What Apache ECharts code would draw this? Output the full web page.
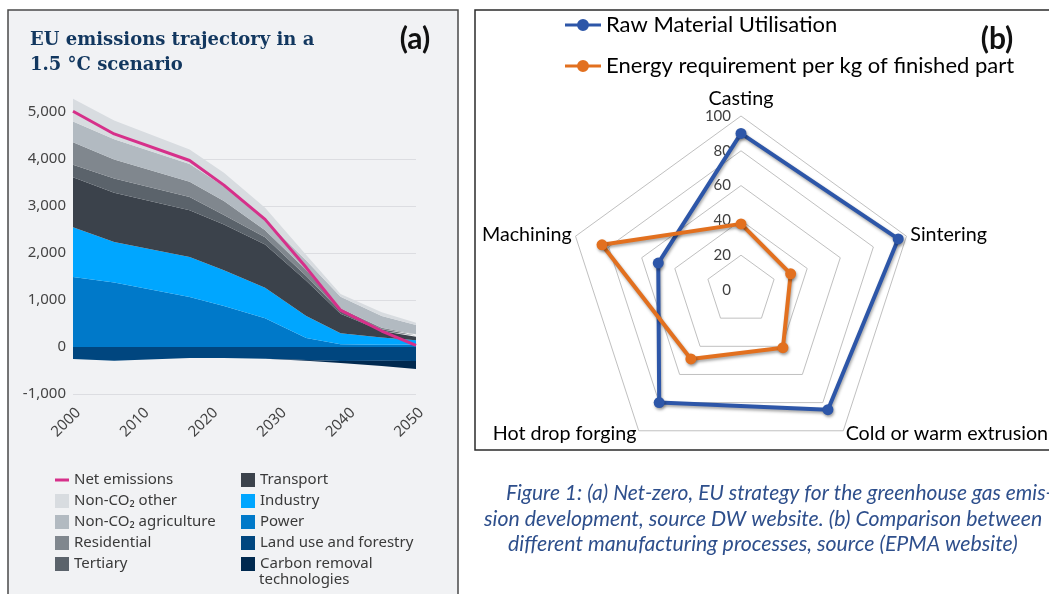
<!DOCTYPE html>
<html><head><meta charset="utf-8">
<script src="https://cdn.jsdelivr.net/npm/echarts@6/dist/echarts.min.js"></script>
<style>html,body{margin:0;padding:0;background:#fff;} #c{width:1049px;height:594px;}</style>
</head><body><div id="c"></div>
<script>
// ---------- Panel (a): EU emissions trajectory ----------
const years = [2000, 2006, 2017, 2022, 2028, 2034, 2039, 2045, 2050];
const power       = [1490, 1370, 1066, 875, 613, 190, 60, 50, 55];
const industry    = [1060, 864, 849, 758, 650, 470, 230, 150, 90];
const transport   = [1060, 1046, 992, 976, 920, 750, 420, 140, 75];
const tertiary    = [270, 306, 282, 198, 150, 100, 50, 40, 25];
const residential = [475, 404, 325, 297, 150, 130, 60, 30, 25];
const agriculture = [445, 430, 382, 318, 220, 200, 250, 250, 200];
const otherNonCO2 = [480, 397, 306, 283, 260, 120, 60, 80, 45];
const landUse     = [-257, -293, -236, -236, -250, -279, -300, -295, -300];
const carbonRemoval = [0, 0, 0, 0, 0, -15, -40, -110, -170];
const netEmissions  = [5015, 4533, 3968, 3444, 2715, 1690, 783, 340, 35];
const yTicks = [-1000, 0, 1000, 2000, 3000, 4000, 5000];

// ---------- Panel (b): radar ----------
const processes = ['Casting', 'Machining', 'Hot drop forging', 'Cold or warm extrusion', 'Sintering'];
const rawUtil   = [90, 50, 80, 85, 95];
const energyReq = [38, 84, 49, 41, 30];
const radarTicks = [0, 20, 40, 60, 80, 100];

const names = {
  net: 'Net emissions', other: 'Non-CO\u2082 other', agri: 'Non-CO\u2082 agriculture',
  res: 'Residential', ter: 'Tertiary', tra: 'Transport', ind: 'Industry',
  pow: 'Power', land: 'Land use and forestry', cdr: 'Carbon removal technologies'
};
const colors = {
  net: '#d6308a', other: '#d8dce0', agri: '#b2bac1', res: '#80878e', ter: '#5b636b',
  tra: '#3b424b', ind: '#00a6ff', pow: '#0079c9', land: '#00467f', cdr: '#00294f'
};

// rows are [value, year]; encode maps year to x so the value dimension is the stacked one
function rows(arr) { return years.map((y, i) => [arr[i], y]); }
function area(key, arr) {
  return {
    name: names[key], type: 'line', stack: 'total', stackStrategy: 'samesign',
    data: rows(arr), encode: { x: 1, y: 0 }, symbol: 'none', showSymbol: false, clip: false,
    lineStyle: { width: 0, color: colors[key] }, itemStyle: { color: colors[key] },
    areaStyle: { color: colors[key], opacity: 1 }, emphasis: { disabled: true }, z: 2
  };
}

const axisFont = 'Noto Sans';
const legendText = { fontSize: 15, color: '#3a3a3a', fontFamily: axisFont, lineHeight: 16 };
const capFont = 'italic 21.3px Lato';

const option = {
  animation: false,
  graphic: [
    { type: 'rect', z: -100, silent: true, shape: { x: 8, y: 10, width: 450, height: 620 },
      style: { fill: '#f1f2f4', stroke: '#4a4a4a', lineWidth: 1.5 } },
    { type: 'rect', z: -100, silent: true, shape: { x: 475, y: 10, width: 620, height: 440 },
      style: { fill: '#ffffff', stroke: '#2b2b2b', lineWidth: 1.5 } },
    { type: 'text', silent: true, style: { text: 'EU emissions trajectory in a\n1.5 \u00b0C scenario', x: 30, y: 28,
      fill: '#12375f', font: 'bold 18px "DejaVu Serif"', lineHeight: 25 } },
    { type: 'text', silent: true, style: { text: '(a)', x: 415, y: 39, align: 'center', verticalAlign: 'middle',
      fill: '#111', font: 'bold 30px Lato' } },
    { type: 'text', silent: true, style: { text: '(b)', x: 997, y: 39, align: 'center', verticalAlign: 'middle',
      fill: '#111', font: 'bold 30px Lato' } },
    { type: 'text', silent: true, style: { text: 'technologies', x: 259, y: 580, verticalAlign: 'middle',
      fill: '#3a3a3a', font: '15px "Noto Sans"' } },
    { type: 'text', silent: true, style: { text: 'Figure 1: (a) Net-zero, EU strategy for the greenhouse gas emis-',
      x: 506, y: 493, verticalAlign: 'middle', fill: '#2e4f8c', font: 'italic 21px Lato' } },
    { type: 'text', silent: true, style: { text: 'sion development, source DW website. (b) Comparison between',
      x: 484, y: 519, verticalAlign: 'middle', fill: '#2e4f8c', font: capFont } },
    { type: 'text', silent: true, style: { text: 'different manufacturing processes, source (EPMA website)',
      x: 508, y: 544, verticalAlign: 'middle', fill: '#2e4f8c', font: capFont } }
  ],
  grid: { left: 73, top: 112, width: 343, height: 282, containLabel: false },
  xAxis: {
    type: 'value', min: 2000, max: 2050, interval: 10,
    axisLine: { show: false, onZero: false }, axisTick: { show: false }, splitLine: { show: false },
    axisLabel: { rotate: 45, margin: 11, verticalAlign: 'top', fontSize: 15, color: '#444', fontFamily: axisFont,
      formatter: v => String(v) }
  },
  yAxis: {
    type: 'value', min: yTicks[0], max: yTicks[yTicks.length - 1], interval: 1000,
    axisLine: { show: false }, axisTick: { show: false },
    splitLine: { show: true, showMaxLine: false, lineStyle: { color: '#dcdde1', width: 1 } },
    axisLabel: { margin: 7, fontSize: 15, color: '#444', fontFamily: axisFont,
      formatter: v => v.toLocaleString('en-US') }
  },
  legend: [
    { orient: 'vertical', left: 50, top: 467, height: 160, itemWidth: 14, itemHeight: 14, itemGap: 5,
      textStyle: legendText, selectedMode: false, symbolKeepAspect: true,
      data: [ { name: names.net, icon: 'path://M0,0 L14,0 L14,3 L0,3 Z' },
              { name: names.other, icon: 'rect' }, { name: names.agri, icon: 'rect' },
              { name: names.res, icon: 'rect' }, { name: names.ter, icon: 'rect' } ] },
    { orient: 'vertical', left: 236, top: 467, height: 160, itemWidth: 14, itemHeight: 14, itemGap: 5,
      textStyle: legendText, selectedMode: false,
      formatter: n => n === names.cdr ? 'Carbon removal' : n,
      data: [ { name: names.tra, icon: 'rect' }, { name: names.ind, icon: 'rect' }, { name: names.pow, icon: 'rect' },
              { name: names.land, icon: 'rect' }, { name: names.cdr, icon: 'rect' } ] },
    { orient: 'vertical', left: 560, top: 8, itemWidth: 36, itemHeight: 12, itemGap: 17, selectedMode: false,
      symbolKeepAspect: true,
      icon: 'path://M0,5 L36,5 L36,8 L0,8 Z M12,6.5 A6,6 0 1 1 24,6.5 A6,6 0 1 1 12,6.5 Z',
      textStyle: { fontSize: 22, color: '#000', fontFamily: 'Lato', lineHeight: 24 },
      data: ['Raw Material Utilisation', 'Energy requirement per kg of finished part'] }
  ],
  radar: {
    center: [741, 290], radius: 174, startAngle: 90, shape: 'polygon', splitNumber: 5,
    nameGap: 4,
    axisName: { color: '#000', fontSize: 19.7, fontFamily: 'Lato' },
    axisLine: { show: false }, axisTick: { show: false },
    splitLine: { lineStyle: { color: '#c0c0c0', width: 1 } }, splitArea: { show: false },
    axisLabel: { show: false },
    indicator: processes.map((p, i) => {
      const ind = { name: p, min: radarTicks[0], max: radarTicks[radarTicks.length - 1] };
      if (i === 0) ind.axisLabel = { show: true, fontSize: 15, color: '#404040', fontFamily: 'Lato', margin: 10 };
      return ind;
    })
  },
  series: [
    area('pow', power), area('ind', industry), area('tra', transport), area('ter', tertiary),
    area('res', residential), area('agri', agriculture), area('other', otherNonCO2),
    area('land', landUse), area('cdr', carbonRemoval),
    { name: names.net, type: 'line', data: rows(netEmissions), encode: { x: 1, y: 0 },
      symbol: 'none', showSymbol: false, clip: false,
      lineStyle: { color: colors.net, width: 3 }, itemStyle: { color: colors.net }, z: 5, emphasis: { disabled: true } },
    { type: 'radar', symbol: 'circle', symbolSize: 11, z: 5,
      data: [
        { name: 'Raw Material Utilisation', value: rawUtil,
          itemStyle: { color: '#2d56a8', shadowColor: 'rgba(0,0,0,0.35)', shadowBlur: 3, shadowOffsetX: 1, shadowOffsetY: 2 },
          lineStyle: { color: '#2d56a8', width: 4, shadowColor: 'rgba(0,0,0,0.35)', shadowBlur: 3, shadowOffsetX: 1, shadowOffsetY: 2 } },
        { name: 'Energy requirement per kg of finished part', value: energyReq,
          itemStyle: { color: '#e2701f', shadowColor: 'rgba(0,0,0,0.35)', shadowBlur: 3, shadowOffsetX: 1, shadowOffsetY: 2 },
          lineStyle: { color: '#e2701f', width: 4, shadowColor: 'rgba(0,0,0,0.35)', shadowBlur: 3, shadowOffsetX: 1, shadowOffsetY: 2 } }
      ] }
  ]
};
const chart = echarts.init(document.getElementById('c'), null, { renderer: 'canvas', width: 1049, height: 594 });
chart.setOption(option);
</script></body></html>
